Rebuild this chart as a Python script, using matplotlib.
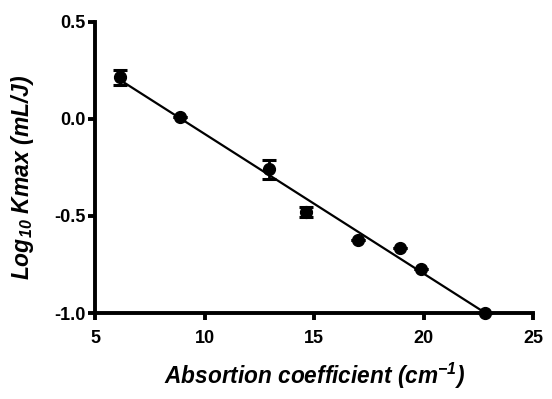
import matplotlib
matplotlib.use("Agg")
import matplotlib.pyplot as plt
import numpy as np

plt.rcParams['font.family'] = ['Liberation Sans', 'DejaVu Sans']
plt.rcParams['mathtext.fontset'] = 'custom'
plt.rcParams['mathtext.rm'] = 'Liberation Sans:bold:italic'
plt.rcParams['mathtext.it'] = 'Liberation Sans:bold:italic'
plt.rcParams['mathtext.bf'] = 'Liberation Sans:bold:italic'

absorption = [6.14, 8.88, 12.95, 14.62, 17.0, 18.91, 19.9, 22.8]
log_kmax = [0.214, 0.01, -0.26, -0.48, -0.625, -0.665, -0.775, -1.0]
errors = [0.04, 0.0, 0.05, 0.025, 0.0, 0.0, 0.0, 0.0]
x_ticks = [5, 10, 15, 20, 25]
y_ticks = [-1.0, -0.5, 0.0, 0.5]

fig = plt.figure(figsize=(5.52, 3.99), dpi=100)
ax = fig.add_axes([0.172, 0.2155, 0.794, 0.7295])

x = np.array(absorption)
y = np.array(log_kmax)
slope, intercept = np.polyfit(x, y, 1)
xl = np.array([x.min(), x.max()])
ax.plot(xl, slope * xl + intercept, color='black', lw=1.6, clip_on=False, zorder=2)

ax.errorbar(x, y, yerr=errors, fmt='o', color='black', ms=8.5, ecolor='black',
            elinewidth=2, capsize=5, capthick=2.2, clip_on=False, zorder=3)

ax.set_xlim(5, 25)
ax.set_ylim(-1.0, 0.5)
ax.set_xticks(x_ticks)
ax.set_yticks(y_ticks)
ax.set_yticklabels([f"{v:.1f}" for v in y_ticks])
for s in ['top', 'right']:
    ax.spines[s].set_visible(False)
for s in ['left', 'bottom']:
    ax.spines[s].set_linewidth(2.8)
ax.tick_params(width=2.8, length=5, labelsize=13)
ax.tick_params(axis='x', pad=7)
ax.tick_params(axis='y', pad=2)
for lab in ax.get_xticklabels() + ax.get_yticklabels():
    lab.set_fontweight('bold')

ax.set_xlabel("Absortion coefficient (cm$^{-1}$)", fontsize=16.3, fontweight='bold',
              fontstyle='italic', labelpad=10)
ax.set_ylabel("Log$_{10}$ Kmax (mL/J)", fontsize=16.5, fontweight='bold',
              fontstyle='italic')
ax.yaxis.set_label_coords(-0.135, 0.466)

fig.savefig("out.png", dpi=100)
